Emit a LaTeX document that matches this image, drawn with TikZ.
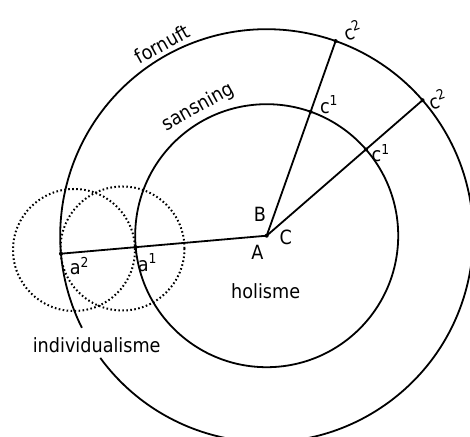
\documentclass[tikz,border=0pt]{standalone}
\usepackage{fontspec}
\setmainfont{DejaVu Sans}[FakeStretch=0.9]
\usetikzlibrary{calc}

\tikzset{
  ring/.style={line width=.9pt},
  guide/.style={line width=1pt,dash pattern=on .8pt off 1.2pt},
  lab/.style={inner sep=0pt},
}

\begin{document}
\begin{tikzpicture}[x=.5pt,y=.5pt,font=\fontsize{9.8}{11}\selectfont]
  \clip (-266.7,-201.3) rectangle (203.3,235.7);
  \coordinate (A) at (0,0);
  % sansning and fornuft
  \draw[ring] (A) circle[radius=131.5];
  \draw[ring] (216.3:206.5) arc[start angle=216.3,end angle=566.5,radius=206.5];
  % dotted circles
  \draw[guide] (-192.7,-14.3) circle[radius=61];
  \draw[guide] (-144.2,-12.8) circle[radius=62];
  % points on the circles
  \coordinate (c1) at (70.5:131.5);
  \coordinate (c2) at (70.5:206.5);
  \coordinate (d1) at (41:131.5);
  \coordinate (d2) at (41:206.5);
  \coordinate (a1) at (185:131.5);
  \coordinate (a2) at (185:206.5);
  \draw[ring] (A) -- (c2);
  \draw[ring] (A) -- (d2);
  \draw[ring] (A) -- (a2);
  \foreach \p in {A,c1,c2,d1,d2,a1,a2} {
    \fill (\p) circle[radius=2];
  }
  % labels
  \node[lab,rotate=29] (fornuft) at (-104.7,191.5) {fornuft};
  \node[lab,rotate=29] (sansning) at (-68.7,128.5) {sansning};
  \node[lab] (holisme) at (-1,-55.3) {holisme};
  \node[lab] (indiv) at (-170,-109.3) {individualisme};
  \node[lab] (labA) at (-9.4,-16.6) {A};
  \node[lab] (labB) at (-6.7,21.4) {B};
  \node[lab] (labC) at (19,-1.6) {C};
  \node[lab] (labc1) at (62.6,131) {c\textsuperscript{1}};
  \node[lab] (labd1) at (114.3,82.4) {c\textsuperscript{1}};
  \node[lab,rotate=20] (labc2) at (86,205) {c\textsuperscript{2}};
  \node[lab,rotate=20] (labd2) at (171,136.5) {c\textsuperscript{2}};
  \node[lab] (laba1) at (-119,-27) {a\textsuperscript{1}};
  \node[lab] (laba2) at (-187,-30.5) {a\textsuperscript{2}};
\end{tikzpicture}
\end{document}
